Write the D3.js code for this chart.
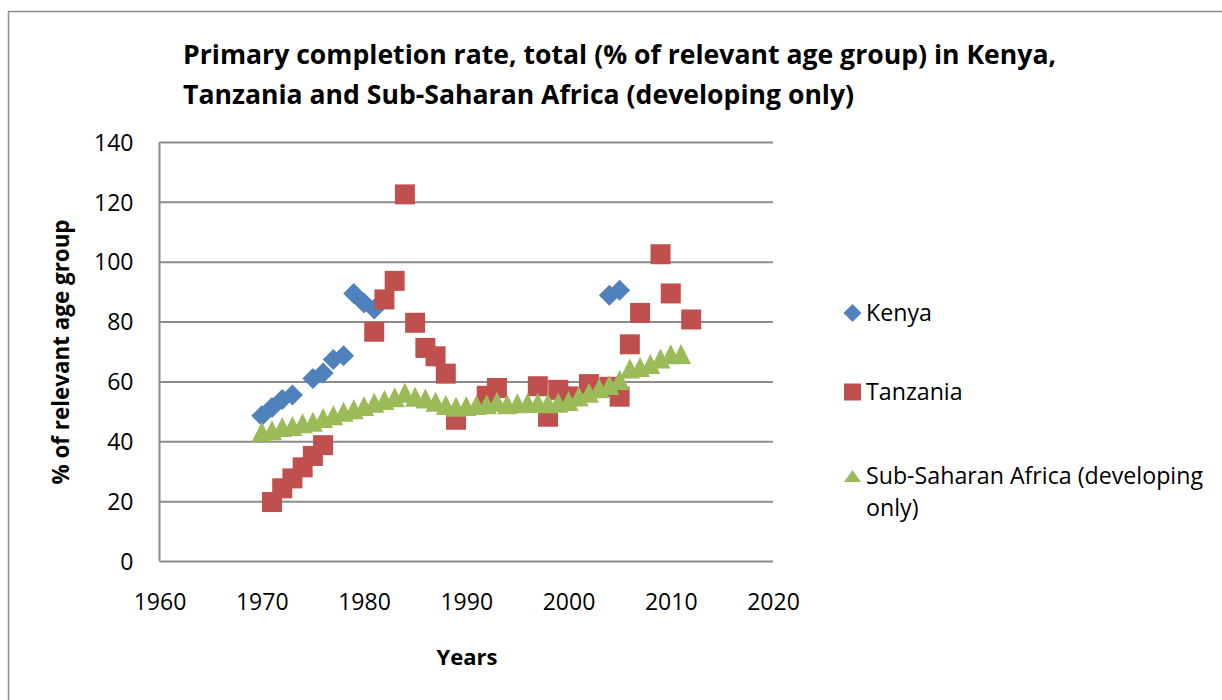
<!DOCTYPE html>
<html>
<head>
<meta charset="utf-8">
<script src="https://cdn.jsdelivr.net/npm/d3@7"></script>
<style>
  body { margin: 0; background: #fff; }
  text { font-family: "Open Sans", Lato, sans-serif; fill: #000; }
</style>
</head>
<body>
<svg id="chart" width="1222" height="700"></svg>
<script>
// data
const kenyaYears = [1970, 1971, 1972, 1973, 1975, 1976, 1977, 1978, 1979, 1980, 1981, 2004, 2005]
const kenyaValues = [48.5, 51.3, 54.0, 55.5, 61.0, 62.8, 67.3, 68.6, 89.4, 86.2, 84.2, 88.8, 90.5]

const tanzaniaYears = [1971, 1972, 1973, 1974, 1975, 1976, 1981, 1982, 1983, 1984, 1985, 1986, 1987, 1988, 1989,
  1992, 1993, 1997, 1998, 1999, 2000, 2002, 2004, 2005, 2006, 2007, 2009, 2010, 2012]
const tanzaniaValues = [19.7, 24.3, 27.6, 31.3, 35.1, 38.7, 76.6, 87.4, 93.6, 122.5, 79.6, 71.2, 68.4, 62.6, 47.2,
  55.2, 57.8, 58.4, 48.2, 57.2, 55.0, 59.1, 58.2, 54.9, 72.4, 82.9, 102.5, 89.4, 80.7]

const ssaYears = d3.range(1970, 2012)
const ssaValues = [43.2, 43.7, 44.8, 45.1, 46.0, 46.5, 47.8, 48.7, 49.9, 50.7,
  51.8, 52.9, 53.8, 54.7, 56.2, 54.9, 54.3, 53.2, 52.1, 51.5,
  51.8, 52.1, 52.4, 53.2, 52.4, 52.7, 52.9, 52.9, 52.7, 52.9,
  53.5, 55.0, 56.2, 57.7, 58.8, 60.5, 64.3, 64.8, 65.8, 67.7,
  69.1, 69.2]

const xTicks = [1960, 1970, 1980, 1990, 2000, 2010, 2020]
const yTicks = [0, 20, 40, 60, 80, 100, 120, 140]

const titleLines = ['Primary completion rate, total (% of relevant age group) in Kenya,',
  'Tanzania and Sub-Saharan Africa (developing only)']

const margin = {top: 142, left: 159.5}
const width = 773 - margin.left
const height = 561 - margin.top
const gridColor = '#8c8c8c'

const svg = d3.select('#chart')

// outer chart border (runs off the right and bottom of the picture)
svg.append('rect')
  .attr('x', 8.5).attr('y', 11.5)
  .attr('width', 1400).attr('height', 900)
  .attr('fill', 'none').attr('stroke', gridColor).attr('stroke-width', 1.5)

const xScale = d3.scaleLinear().domain([1960, 2020]).range([0, width])
const yScale = d3.scaleLinear().domain([0, 140]).range([height, 0])

const g = svg.append('g').attr('transform', 'translate(' + margin.left + ',' + margin.top + ')')

// gridlines + y labels
const yAxis = d3.axisLeft(yScale).tickValues(yTicks).tickSize(-width).tickPadding(26)
const yG = g.append('g').call(yAxis)
yG.select('.domain').remove()
yG.selectAll('.tick line').attr('stroke', gridColor).attr('stroke-width', 2)
yG.selectAll('.tick text').style('font-size', '23px').attr('dy', '0.36em')

const xAxis = d3.axisBottom(xScale).tickValues(xTicks).tickSize(0).tickPadding(33).tickFormat(d3.format('d'))
const xG = g.append('g').attr('transform', 'translate(0,' + height + ')').call(xAxis)
xG.select('.domain').remove()
xG.selectAll('.tick text').style('font-size', '23px')

// vertical axis line
g.append('line')
  .attr('x1', 0).attr('x2', 0).attr('y1', 0).attr('y2', height)
  .attr('stroke', gridColor).attr('stroke-width', 2)

// marker shapes, Excel style (centred on their bounding box)
const diamondType = {
  draw (ctx, size) {
    const r = Math.sqrt(size) / 2
    ctx.moveTo(0, -r); ctx.lineTo(r, 0); ctx.lineTo(0, r); ctx.lineTo(-r, 0); ctx.closePath()
  }
}
const squareType = {
  draw (ctx, size) {
    const r = Math.sqrt(size) / 2
    ctx.rect(-r, -r, 2 * r, 2 * r)
  }
}
const triangleType = {
  draw (ctx, size) {
    const r = Math.sqrt(size) / 2
    ctx.moveTo(0, -r); ctx.lineTo(r, r); ctx.lineTo(-r, r); ctx.closePath()
  }
}

const series = [
  {name: 'Kenya', years: kenyaYears, values: kenyaValues, color: '#4f81bd', type: diamondType, size: 21 * 21},
  {name: 'Tanzania', years: tanzaniaYears, values: tanzaniaValues, color: '#c0504d', type: squareType, size: 20 * 20},
  {name: 'Sub-Saharan Africa (developing only)', years: ssaYears, values: ssaValues, color: '#9bbb59', type: triangleType, size: 20 * 20}
]

series.forEach(s => {
  g.append('g')
    .selectAll('path')
    .data(s.years.map((yr, i) => [yr, s.values[i]]))
    .enter()
    .append('path')
    .attr('d', d3.symbol().type(s.type).size(s.size))
    .attr('transform', d => 'translate(' + xScale(d[0]) + ',' + yScale(d[1]) + ')')
    .attr('fill', s.color)
})

// title
svg.append('g')
  .selectAll('text')
  .data(titleLines)
  .enter()
  .append('text')
  .attr('x', 183)
  .attr('y', (d, i) => 64 + i * 40)
  .style('font-size', '26.6px')
  .style('font-weight', 'bold')
  .text(d => d)

// axis titles
svg.append('text')
  .attr('transform', 'translate(69,352) rotate(-90)')
  .attr('text-anchor', 'middle')
  .style('font-size', '22.4px')
  .style('font-weight', 'bold')
  .text('% of relevant age group')

svg.append('text')
  .attr('x', 467).attr('y', 665)
  .attr('text-anchor', 'middle')
  .style('font-size', '22px')
  .style('font-weight', 'bold')
  .text('Years')

// legend
const legendY = [313, 392, 476]
const legendSize = [18 * 18, 17 * 17, 17 * 17]
const legend = svg.append('g')
series.forEach((s, i) => {
  legend.append('path')
    .attr('d', d3.symbol().type(s.type).size(legendSize[i]))
    .attr('transform', 'translate(852.5,' + legendY[i] + ')' + (i === 2 ? ' scale(1,0.72)' : ''))
    .attr('fill', s.color)
})
const legendText = legend.selectAll('text')
  .data([['Kenya'], ['Tanzania'], ['Sub-Saharan Africa (developing', 'only)']])
  .enter()
  .append('text')
  .attr('x', 866)
  .attr('y', (d, i) => legendY[i] + 8)
  .style('font-size', '23.2px')
legendText.selectAll('tspan')
  .data(d => d)
  .enter()
  .append('tspan')
  .attr('x', 866)
  .attr('dy', (d, i) => i === 0 ? 0 : 32)
  .text(d => d)
</script>
</body>
</html>
